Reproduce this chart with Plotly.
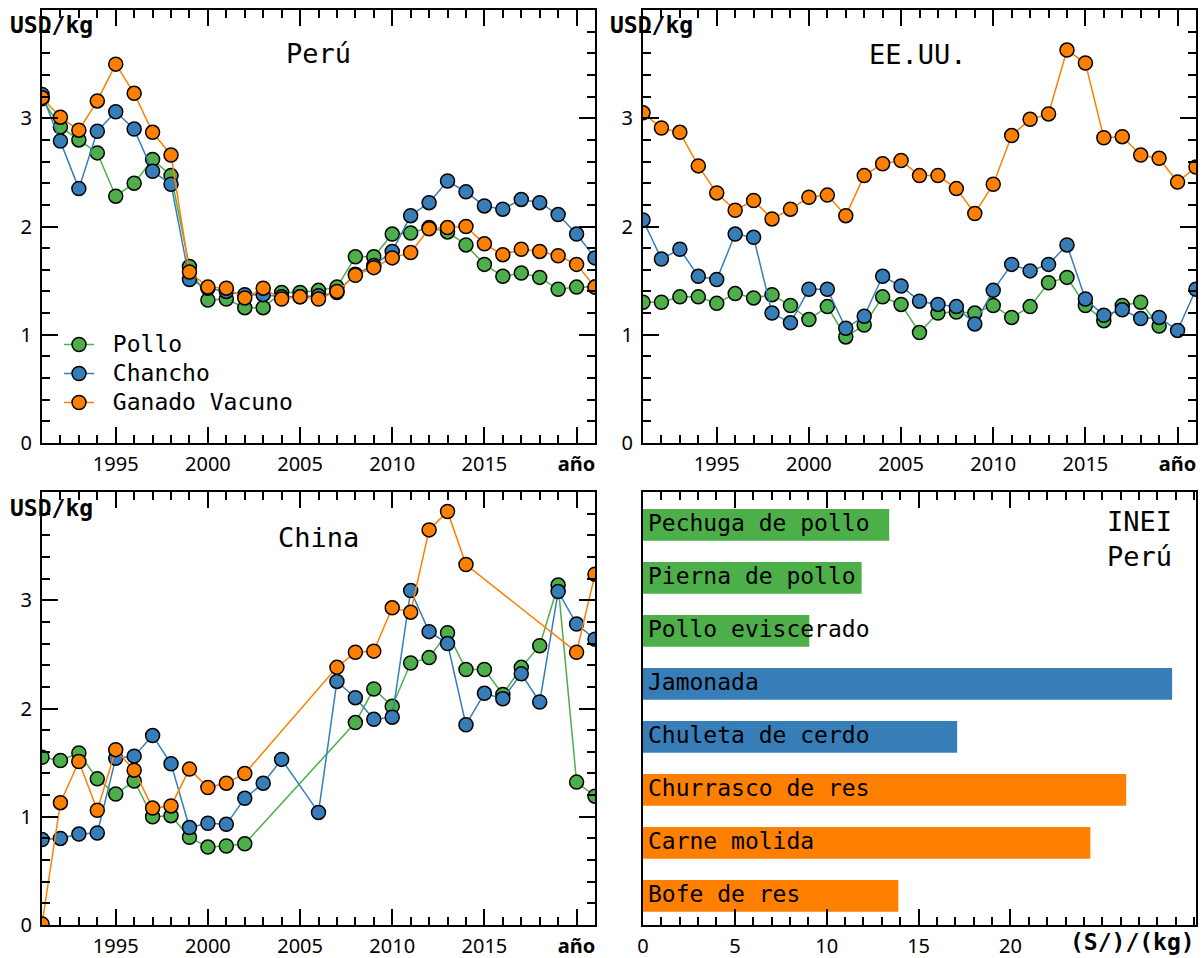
import plotly.graph_objects as go

# ---- data -------------------------------------------------------------
years = list(range(1991, 2022))

# Perú (USD/kg)
peru_pollo = [3.18, 2.92, 2.80, 2.68, 2.28, 2.40, 2.62, 2.47, 1.63, 1.32, 1.33, 1.25, 1.25, 1.39,
              1.39, 1.41, 1.44, 1.72, 1.72, 1.93, 1.94, 1.99, 1.95, 1.83, 1.65, 1.54, 1.57, 1.53,
              1.42, 1.44, 1.44]
peru_chancho = [3.22, 2.79, 2.35, 2.88, 3.06, 2.90, 2.51, 2.39, 1.51, 1.43, 1.40, 1.37, 1.37, 1.35,
                1.35, 1.36, 1.39, 1.56, 1.64, 1.77, 2.10, 2.22, 2.42, 2.32, 2.19, 2.16, 2.25, 2.22,
                2.11, 1.93, 1.71]
peru_vacuno = [3.19, 3.01, 2.89, 3.16, 3.50, 3.23, 2.87, 2.66, 1.58, 1.44, 1.43, 1.34, 1.43, 1.33,
               1.35, 1.33, 1.40, 1.55, 1.62, 1.71, 1.76, 1.98, 1.99, 2.00, 1.84, 1.74, 1.79, 1.77,
               1.73, 1.65, 1.44]

# EE.UU. (USD/kg)
usa_pollo = [1.30, 1.30, 1.35, 1.35, 1.29, 1.38, 1.34, 1.37, 1.27, 1.14, 1.26, 0.98, 1.09, 1.35,
             1.28, 1.02, 1.20, 1.21, 1.20, 1.27, 1.16, 1.26, 1.48, 1.53, 1.27, 1.13, 1.27, 1.30,
             1.08, None, None]
usa_chancho = [2.06, 1.70, 1.79, 1.54, 1.51, 1.93, 1.90, 1.20, 1.11, 1.42, 1.42, 1.06, 1.17, 1.54,
               1.45, 1.31, 1.28, 1.26, 1.10, 1.41, 1.65, 1.59, 1.65, 1.83, 1.33, 1.18, 1.23, 1.15,
               1.16, 1.04, 1.42]
usa_vacuno = [3.05, 2.91, 2.87, 2.56, 2.31, 2.15, 2.24, 2.07, 2.16, 2.27, 2.29, 2.10, 2.47, 2.58,
              2.61, 2.47, 2.47, 2.35, 2.12, 2.39, 2.84, 2.99, 3.04, 3.63, 3.51, 2.82, 2.83, 2.66,
              2.63, 2.41, 2.55]

# China (USD/kg); missing years are left out
china_pollo = [1.55, 1.52, 1.59, 1.35, 1.21, 1.33, 1.00, 1.01, 0.81, 0.72, 0.73, 0.75, None, None,
               None, None, None, 1.87, 2.18, 2.02, 2.42, 2.47, 2.70, 2.36, 2.36, 2.13, 2.38, 2.58,
               3.14, 1.32, 1.19]
china_chancho = [0.79, 0.80, 0.84, 0.85, 1.54, 1.56, 1.75, 1.49, 0.90, 0.94, 0.93, 1.17, 1.31, 1.53,
                 None, 1.04, 2.25, 2.10, 1.90, 1.92, 3.09, 2.71, 2.60, 1.85, 2.14, 2.09, 2.32, 2.06,
                 3.08, 2.78, 2.64]
china_vacuno = [0.01, 1.13, 1.51, 1.06, 1.62, 1.43, 1.08, 1.10, 1.44, 1.27, 1.31, 1.40, None, None,
                None, None, 2.38, 2.52, 2.53, 2.93, 2.89, 3.65, 3.82, 3.33, None, None, None, None,
                None, 2.52, 3.24]

# INEI Perú retail prices (S/ per kg)
productos = ["Pechuga de pollo", "Pierna de pollo", "Pollo eviscerado", "Jamonada",
             "Chuleta de cerdo", "Churrasco de res", "Carne molida", "Bofe de res"]
precios = [13.4, 11.9, 9.05, 28.8, 17.1, 26.3, 24.35, 13.9]
grupo = ["pollo", "pollo", "pollo", "chancho", "chancho", "vacuno", "vacuno", "vacuno"]

series_names = ["Pollo", "Chancho", "Ganado Vacuno"]

# ---- style --------------------------------------------------------------
GREEN, BLUE, ORANGE = "#4daf4a", "#377eb8", "#ff7f00"
colors = {"pollo": GREEN, "chancho": BLUE, "vacuno": ORANGE}
MONO = "DejaVu Sans Mono"
SANS = "Noto Sans"
W, H = 1204, 958


def px_x(p):
    return p / W


def px_y(p):
    return 1 - p / H


fig = go.Figure()

panels = [
    ("x", "y", [peru_pollo, peru_chancho, peru_vacuno], True),
    ("x2", "y2", [usa_pollo, usa_chancho, usa_vacuno], False),
    ("x3", "y3", [china_pollo, china_chancho, china_vacuno], False),
]
for xa, ya, data, show in panels:
    for name, vals, col in zip(series_names, data, [GREEN, BLUE, ORANGE]):
        fig.add_trace(go.Scatter(
            x=years, y=vals, xaxis=xa, yaxis=ya,
            name='<span style="font-size:23px">\u00a0' + name + '</span>',
            mode="lines+markers", connectgaps=True, showlegend=show,
            line=dict(color=col, width=1.5),
            marker=dict(color=col, size=14, line=dict(color="black", width=1.5)),
        ))

# horizontal bars
fig.add_trace(go.Bar(
    x=precios, y=productos, orientation="h", xaxis="x4", yaxis="y4",
    marker=dict(color=[colors[g] for g in grupo], line=dict(width=0)),
    width=0.6, showlegend=False,
))
fig.add_trace(go.Scatter(
    x=[0.27] * len(productos), y=productos, mode="text", text=productos,
    textposition="middle right", xaxis="x4", yaxis="y4", showlegend=False,
    textfont=dict(family=MONO, size=23, color="black"), hoverinfo="skip",
))

# ---- axes ---------------------------------------------------------------
dom_left = [px_x(42), px_x(595)]
dom_right = [px_x(643), px_x(1196)]
dom_top = [px_y(443), px_y(10)]
dom_bot = [px_y(925), px_y(492)]

frame = dict(showline=True, linecolor="black", linewidth=2, mirror="ticks",
             ticks="inside", tickcolor="black", tickwidth=1.6, ticklen=16,
             showgrid=False, zeroline=False, automargin=False,
             tickfont=dict(family=SANS, size=20, color="black"))

year_ticks = [1995, 2000, 2005, 2010, 2015, 2020]
year_text = ["1995", "2000", "2005", "2010", "2015", "<b>año</b>"]


def xyear(domain, anchor):
    return dict(frame, domain=domain, anchor=anchor, range=[1991, 2021],
                tickvals=year_ticks, ticktext=year_text, ticklabelstandoff=2,
                minor=dict(dtick=1, tick0=1991, ticks="inside", ticklen=8,
                           tickcolor="black", tickwidth=1.6))


def yusd(domain, anchor):
    return dict(frame, domain=domain, anchor=anchor, range=[0, 4],
                tickvals=[0, 1, 2, 3], ticktext=["0", "1", "2", "3"],
                ticklabelstandoff=4,
                minor=dict(dtick=0.2, tick0=0, ticks="inside", ticklen=8,
                           tickcolor="black", tickwidth=1.6))


fig.update_layout(
    xaxis=xyear(dom_left, "y"), yaxis=yusd(dom_top, "x"),
    xaxis2=xyear(dom_right, "y2"), yaxis2=yusd(dom_top, "x2"),
    xaxis3=xyear(dom_left, "y3"), yaxis3=yusd(dom_bot, "x3"),
    xaxis4=dict(frame, domain=dom_right, anchor="y4", range=[0, 30.1],
                tickvals=[0, 5, 10, 15, 20], ticklabelstandoff=2,
                minor=dict(dtick=1, tick0=0, ticks="inside", ticklen=8,
                           tickcolor="black", tickwidth=1.6)),
    yaxis4=dict(domain=dom_bot, anchor="x4", showline=True, linecolor="black",
                linewidth=2, mirror=True, ticks="", showticklabels=False,
                showgrid=False, zeroline=False, type="category", automargin=False,
                categoryorder="array", categoryarray=productos,
                range=[7.55, -0.62]),
)

# ---- text ---------------------------------------------------------------
notes = [
    dict(x=px_x(318), y=px_y(53), text="Perú"),
    dict(x=px_x(918), y=px_y(55), text="EE.UU."),
    dict(x=px_x(318), y=px_y(537), text="China"),
]
for n in notes:
    fig.add_annotation(xref="paper", yref="paper", showarrow=False,
                       xanchor="center", yanchor="middle",
                       font=dict(family=MONO, size=27, color="black"), **n)

fig.add_annotation(xref="paper", yref="paper", x=px_x(1174), y=px_y(539),
                   text="INEI<br>Perú", showarrow=False, align="right",
                   xanchor="right", yanchor="middle",
                   font=dict(family=MONO, size=27, color="black"))

for xl, yl in [(8, 25), (608, 25), (8, 508)]:
    fig.add_annotation(xref="paper", yref="paper", x=px_x(xl), y=px_y(yl),
                       text="<b>USD/kg</b>", showarrow=False, xanchor="left",
                       yanchor="middle", font=dict(family=MONO, size=23, color="black"))

fig.add_annotation(xref="paper", yref="paper", x=px_x(1197), y=px_y(942),
                   text="<b>(S/)/(kg)</b>", showarrow=False, xanchor="right",
                   yanchor="middle", font=dict(family=MONO, size=23, color="black"))

fig.update_layout(
    width=W, height=H, margin=dict(l=0, r=0, t=0, b=0, autoexpand=False),
    paper_bgcolor="white", plot_bgcolor="white",
    font=dict(family=SANS, color="black"),
    legend=dict(x=px_x(59), y=px_y(325), xanchor="left", yanchor="top",
                bgcolor="rgba(0,0,0,0)", font=dict(family=MONO, size=20),
                tracegroupgap=0),
)

fig.write_html("out.html")
